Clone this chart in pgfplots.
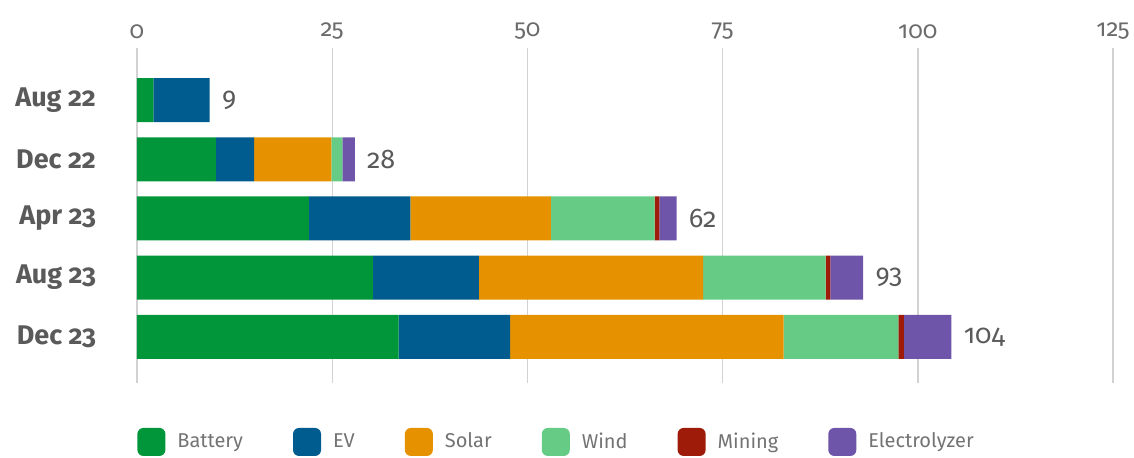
\documentclass[border=0pt]{standalone}
\usepackage{pgfplots}
\pgfplotsset{compat=1.18}
\usepackage{pgfplotstable}
\usepackage{fontspec}
\setmainfont{Fira Sans}[Numbers=OldStyle]

\definecolor{battery}{HTML}{009639}
\definecolor{ev}{HTML}{005B8F}
\definecolor{solar}{HTML}{E69200}
\definecolor{wind}{HTML}{66CC85}
\definecolor{mining}{HTML}{9E1B0A}
\definecolor{electro}{HTML}{6E55AA}
\definecolor{txtgray}{HTML}{5A5A5A}
\definecolor{gridgray}{HTML}{D2D2D2}

% capacity by segment
\pgfplotstableread{
idx battery ev   solar wind mining electro total label
0   2.1     7.2  0     0    0      0       9.3   9
1   10.1    4.9  9.9   1.4  0      1.6     27.9  28
2   22.0    13.0 18.0  13.3 0.6    2.2     69.1  62
3   30.2    13.6 28.7  15.7 0.6    4.2     93.0  93
4   33.5    14.3 35.0  14.7 0.7    6.1     104.3 104
}\data

\pgfplotsset{
    base/.style={
        scale only axis,
        width=488pt, height=167.5pt,
        xmin=0, xmax=125,
        ymin=-0.88, ymax=4.78, y dir=reverse,
    },
}

\begin{document}
\begin{tikzpicture}
\useasboundingbox (-68.5pt,-37.5pt) rectangle (498.5pt,191.5pt);
\begin{axis}[
    base,
    xbar stacked, bar width=22pt,
    xtick={0,25,50,75,100,125},
    xticklabel pos=upper,
    ytick={0,1,2,3,4},
    yticklabels={Aug 22,Dec 22,Apr 23,Aug 23,Dec 23},
    axis line style={draw=none},
    major tick length=0pt,
    xmajorgrids, grid style={gridgray, line width=0.7pt},
    /pgf/number format/assume math mode=true,
    xticklabel style={font=\fontsize{12}{14}\selectfont, text=txtgray!90, yshift=1pt},
    yticklabel style={font=\fontsize{13.5}{15}\selectfont\bfseries, text=txtgray, xshift=-17pt},
    legend style={at={(0,-0.176)}, anchor=west, draw=none, fill=none,
        inner xsep=0pt, font=\fontsize{10}{12}\selectfont, text=txtgray!85,
        /tikz/every odd column/.style={column sep=4pt},
        /tikz/every even column/.style={column sep=23pt}},
    legend columns=6,
    legend image code/.code={\fill[#1, rounded corners=3pt] (0pt,-7pt) rectangle (14pt,7pt);},
]
\addplot[fill=battery, draw=none] table[x=battery, y=idx] {\data};
\addplot[fill=ev, draw=none] table[x=ev, y=idx] {\data};
\addplot[fill=solar, draw=none] table[x=solar, y=idx] {\data};
\addplot[fill=wind, draw=none] table[x=wind, y=idx] {\data};
\addplot[fill=mining, draw=none] table[x=mining, y=idx] {\data};
\addplot[fill=electro, draw=none] table[x=electro, y=idx] {\data};
\legend{Battery, EV, Solar, Wind, Mining, Electrolyzer}
\end{axis}
% totals at the bar ends
\begin{axis}[base, hide axis]
\addplot[only marks, mark size=0pt,
    nodes near coords, point meta=explicit symbolic,
    nodes near coords style={anchor=west, inner sep=0pt, xshift=6pt,
        text=txtgray, font=\fontsize{13.5}{15}\selectfont}]
    table[x=total, y=idx, meta=label] {\data};
\end{axis}
\end{tikzpicture}
\end{document}
